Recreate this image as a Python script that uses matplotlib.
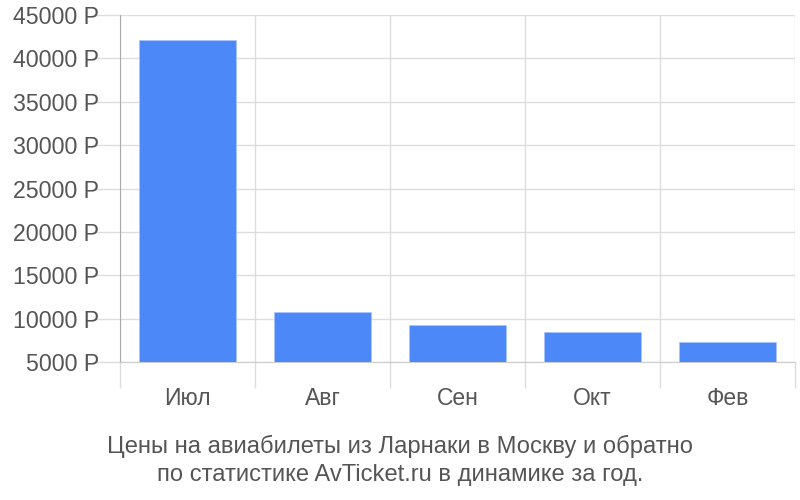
import matplotlib
matplotlib.use("Agg")
import matplotlib.pyplot as plt
import numpy as np

categories = ["Июл", "Авг", "Сен", "Окт", "Фев"]
prices = [42100, 10820, 9320, 8510, 7330]
yticks = [5000, 10000, 15000, 20000, 25000, 30000, 35000, 40000, 45000]
ytick_labels = [f"{v} Р" for v in yticks]
caption = "Цены на авиабилеты из Ларнаки в Москву и обратно\nпо статистике AvTicket.ru в динамике за год."

plt.rcParams['font.family'] = ['Liberation Sans', 'DejaVu Sans']

fig = plt.figure(figsize=(8, 5), dpi=100)
ax = fig.add_axes([0.15, 0.276, 0.84375, 0.694])

x = np.arange(len(categories))
ax.bar(x, [p - 5000 for p in prices], bottom=5000, width=0.72, color="#4d88f9",
       edgecolor="#a9c6fb", linewidth=0.6, zorder=3)

ax.set_xlim(-0.5, len(categories) - 0.5)
ax.set_ylim(5000, 45000)

ax.set_yticks(yticks)
ax.set_yticklabels(ytick_labels)
ax.tick_params(axis='y', length=20, color="#dddddd", width=1, pad=-5,
               labelsize=16.7, labelcolor="#555555")

ax.set_xticks(x)
ax.set_xticklabels(categories)
ax.tick_params(axis='x', which='major', length=0, pad=18, labelsize=16.5, labelcolor="#555555")
ax.set_xticks(np.arange(-0.5, len(categories)), minor=True)
ax.tick_params(axis='x', which='minor', length=19, color="#dddddd", width=1)

ax.grid(axis='y', color="#dddddd", linewidth=1, zorder=0)
ax.grid(axis='x', which='minor', color="#dddddd", linewidth=1, zorder=0)
ax.grid(axis='x', which='major', visible=False)

for s in ['top', 'right']:
    ax.spines[s].set_visible(False)
ax.spines['bottom'].set_color("#cccccc")
ax.spines['left'].set_color("#aaaaaa")

fig.text(0.5, 0.079, caption, ha='center', va='center', fontsize=17.1,
         color="#555555", linespacing=1.38)

fig.savefig("out.png", dpi=100)
